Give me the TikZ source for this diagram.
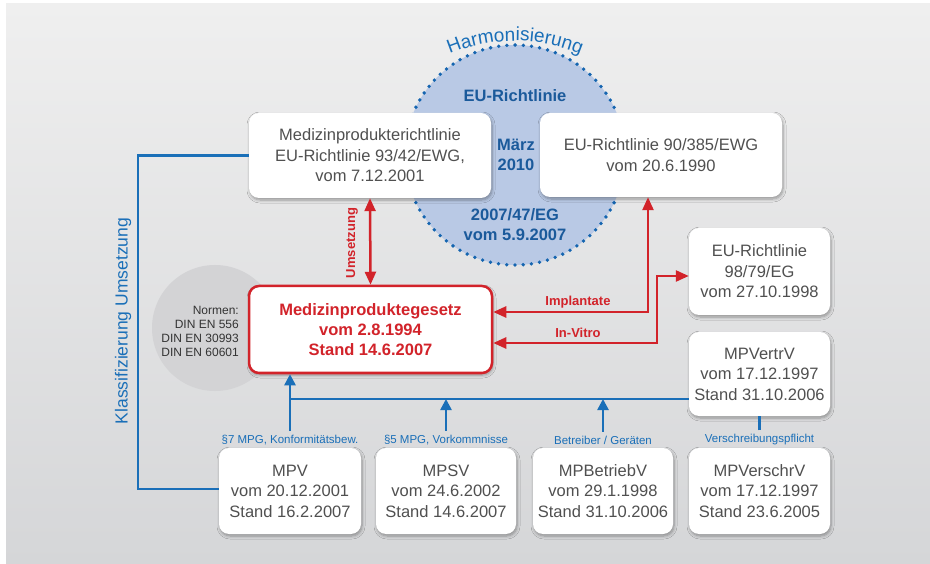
\documentclass[tikz,border=0pt]{standalone}
\usepackage{fontspec}
\setmainfont{Liberation Sans}
\usetikzlibrary{arrows.meta,shadows.blur,decorations.text}
\definecolor{bblue}{HTML}{1A6FB8}
\definecolor{dblue}{HTML}{1B5A9B}
\definecolor{dotblue}{HTML}{1565B0}
\definecolor{cfill}{HTML}{B9C9E5}
\definecolor{rred}{HTML}{D2232A}
\definecolor{tgray}{HTML}{505050}
\definecolor{ngray}{HTML}{333333}
\definecolor{gcirc}{HTML}{D3D3D5}
\definecolor{bgtop}{HTML}{EFEFEF}
\definecolor{bgbot}{HTML}{D5D6D8}
\begin{document}
\begin{tikzpicture}[x=1pt,y=-1pt,
  box/.style={fill=white, rounded corners=10pt, align=center, text=tgray,
    font=\fontsize{16.5}{20.5}\selectfont, inner sep=0pt,
    blur shadow={shadow blur steps=6, shadow xshift=1pt, shadow yshift=-2pt, shadow opacity=35, shadow blur radius=3pt}},
  lbl/.style={text=bblue, font=\fontsize{11.5}{13}\selectfont, inner sep=1pt},
  ctext/.style={text=dblue, font=\bfseries\fontsize{16.5}{20}\selectfont, align=center},
  barrow/.style={draw=bblue, line width=2.5pt, -{Triangle[length=11pt,width=11pt]}},
  bline/.style={draw=bblue, line width=2.5pt},
  rarrow/.style={draw=rred, line width=2.5pt, {Triangle[length=13pt,width=11pt]}-{Triangle[length=13pt,width=11pt]}},
  rlbl/.style={text=rred, font=\bfseries\fontsize{13}{15}\selectfont, inner sep=1pt},
]
\useasboundingbox (0,0) rectangle (930,564);
\shade[top color=bgtop, bottom color=bgbot] (6,4) rectangle (930,564);

% grey Normen circle
\fill[gcirc] (215,328) circle[radius=63];
\node[align=right, anchor=east, font=\fontsize{12}{14}\selectfont, text=ngray, inner sep=0pt] (norm) at (239,331) {Normen:\\DIN EN 556\\DIN EN 30993\\DIN EN 60601};

% Harmonisierung circle
\fill[cfill] (515,155) circle[radius=110];
\draw[dotblue, line width=3.8pt, line cap=round, dash pattern=on 0pt off 8.23pt] (515,155) circle[radius=110];
\path[decorate, decoration={text along path, text align=center,
  text={|\fontsize{19}{19}\selectfont\color{bblue}|Harmonisierung}}]
  (515,211) ++(245:170) arc[start angle=245, end angle=295, radius=170];
\node[ctext] (eur) at (515,96) {EU-Richtlinie};
\node[ctext] (maerz) at (516,155) {März\\2010};
\node[ctext] (eg) at (515,225) {2007/47/EG\\vom 5.9.2007};

% boxes
\node[box, minimum width=242pt, minimum height=85pt] (A) at (370,155.5) {Medizinprodukterichtlinie\\EU-Richtlinie 93/42/EWG,\\vom 7.12.2001};
\node[box, minimum width=242pt, minimum height=84pt] (B) at (661,155) {EU-Richtlinie 90/385/EWG\\vom 20.6.1990};
\node[box, minimum width=141pt, minimum height=87pt] (C) at (759.5,271.5) {EU-Richtlinie\\98/79/EG\\vom 27.10.1998};
\node[box, minimum width=141pt, minimum height=84pt] (D) at (759.5,374) {MPVertrV\\vom 17.12.1997\\Stand 31.10.2006};
\node[box, draw=rred, line width=2.5pt, text=rred, font=\bfseries\fontsize{16.5}{20}\selectfont,
  minimum width=243pt, minimum height=87pt] (R) at (370.5,329.5) {Medizinproduktegesetz\\vom 2.8.1994\\Stand 14.6.2007};

\node[box, minimum width=142pt, minimum height=86pt] (M1) at (290,491) {MPV\\vom 20.12.2001\\Stand 16.2.2007};
\node[box, minimum width=140pt, minimum height=86pt] (M2) at (446,491) {MPSV\\vom 24.6.2002\\Stand 14.6.2007};
\node[box, minimum width=140pt, minimum height=86pt] (M3) at (603,491) {MPBetriebV\\vom 29.1.1998\\Stand 31.10.2006};
\node[box, minimum width=141pt, minimum height=86pt] (M4) at (759.5,491) {MPVerschrV\\vom 17.12.1997\\Stand 23.6.2005};

% labels above bottom boxes
\node[lbl] (L1) at (290,440) {§7 MPG, Konformitätsbew.};
\node[lbl] (L2) at (446,440) {§5 MPG, Vorkommnisse};
\node[lbl] (L3) at (603,440) {Betreiber / Geräten};
\node[lbl] (L4) at (759.5,440) {Verschreibungspflicht};

% blue connectors
\coordinate (K1) at (138,489);
\draw[bline] (A.west) -| (K1) -- (M1.west |- K1);
\node[text=bblue, font=\fontsize{17.5}{20}\selectfont, rotate=90] (klass) at (123,321) {Klassifizierung Umsetzung};
\coordinate (H1) at (290,399);
\draw[barrow] ([yshift=3pt]L1.north) -- (R.south -| L1.north);
\draw[bline] (H1) -- (D.west |- H1);
\draw[barrow] ([yshift=3pt]L2.north) -- (L2.north |- H1);
\draw[barrow] ([yshift=3pt]L3.north) -- (L3.north |- H1);
\draw[bline] ([yshift=3pt]L4.north) -- (D.south);

% red connectors
\draw[rarrow] (A.south) -- (R.north);
\node[rlbl, rotate=90] (ums) at (352,243) {Umsetzung};
\coordinate (I1) at (648,312);
\draw[rarrow] (B.south -| I1) -- (I1) -- (R.east |- I1);
\node[rlbl] (impl) at (578,302) {Implantate};
\coordinate (V1) at (657,343);
\coordinate (V2) at (657,276);
\draw[rarrow] (R.east |- V1) -- (V1) -- (V2) -- (C.west |- V2);
\node[rlbl] (invitro) at (578,333) {In-Vitro};
\end{tikzpicture}
\end{document}
